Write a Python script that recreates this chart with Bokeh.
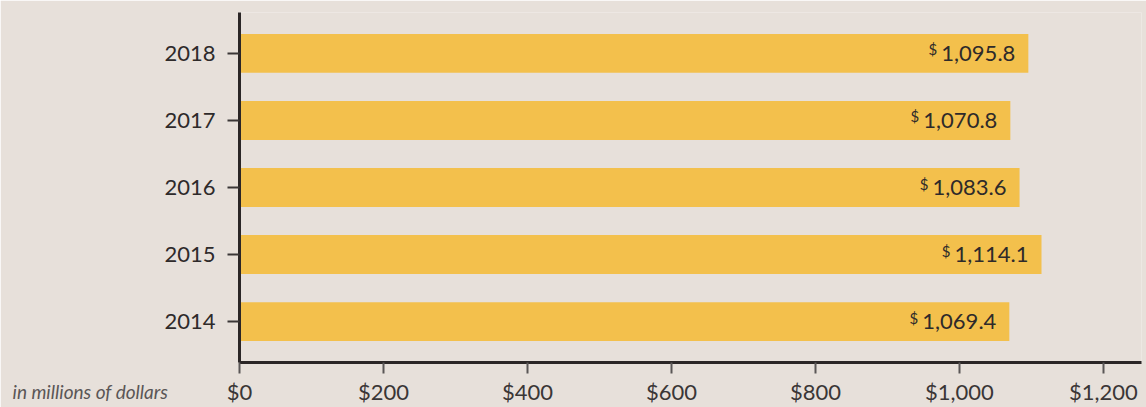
from bokeh.plotting import figure
from bokeh.models import Range1d, FactorRange, FixedTicker, Label, ColumnDataSource
from bokeh.core.properties import value
from bokeh.embed import file_html
from bokeh.resources import INLINE

years = ["2014", "2015", "2016", "2017", "2018"]
revenue = [1069.4, 1114.1, 1083.6, 1070.8, 1095.8]
value_labels = ["1,069.4", "1,114.1", "1,083.6", "1,070.8", "1,095.8"]
x_ticks = [0, 200, 400, 600, 800, 1000, 1200]
x_tick_labels = ["$0", "$200", "$400", "$600", "$800", "$1,000", "$1,200"]
unit_note = "in millions of dollars"

FONT = "Lato"
BG = "#e7e0da"
TEXT = "#2e2a2a"
LABEL_FS = 22

# approximate glyph widths (px) of the value-label font, used to place the small "$"
def text_width(s):
    return sum((0.21 if c in ",." else 0.58) * LABEL_FS for c in s)

dollar_offsets = [-13 - text_width(s) - 5 for s in value_labels]

src = ColumnDataSource(dict(y=years, x=revenue, lab=value_labels, doff=dollar_offsets,
                            d=["$"] * len(years)))

p = figure(width=1146, height=407, output_backend="svg", toolbar_location=None,
           x_range=Range1d(0, 1253),
           y_range=FactorRange(*years, range_padding=0.044),
           min_border_left=239, min_border_right=5, min_border_top=12, min_border_bottom=44)

p.background_fill_color = BG
p.border_fill_color = BG
p.outline_line_color = None
p.xgrid.grid_line_color = None
p.ygrid.grid_line_color = None

p.hbar(y="y", right="x", left=0, height=0.58, source=src,
       fill_color="#f3c04c", line_color=None)

p.text(x="x", y="y", text="lab", source=src, x_offset=-13, text_align="right",
       text_baseline="middle", text_font=value(FONT), text_font_size=f"{LABEL_FS}px",
       text_color=TEXT)
p.text(x="x", y="y", text="d", source=src, x_offset="doff", y_offset=-4,
       text_align="right", text_baseline="middle", text_font=value(FONT),
       text_font_size="15px", text_color=TEXT)

xa = p.xaxis[0]
xa.ticker = FixedTicker(ticks=x_ticks)
xa.major_label_overrides = {t: l for t, l in zip(x_ticks, x_tick_labels)}
xa.axis_line_width = 3
xa.axis_line_color = "#2b2626"
xa.major_tick_out = 11
xa.major_tick_in = 0
xa.major_tick_line_color = "#5a5656"
xa.major_tick_line_width = 2
xa.minor_tick_line_color = None
xa.major_label_standoff = 4
xa.major_label_text_font = FONT
xa.major_label_text_font_size = "22px"
xa.major_label_text_color = "#3a3636"

ya = p.yaxis[0]
ya.axis_line_width = 3
ya.axis_line_color = "#2b2626"
ya.major_tick_out = 12
ya.major_tick_in = 0
ya.major_tick_line_color = "#3a3636"
ya.major_tick_line_width = 2
ya.major_label_standoff = 12
ya.major_label_text_font = FONT
ya.major_label_text_font_size = "22px"
ya.major_label_text_color = TEXT

# unit note, left of the $0 tick label; kept in a side panel so it is not clipped
p.add_layout(Label(x=-315.3, y=-0.54, text=unit_note,
                   text_align="left", text_baseline="middle", text_font=FONT,
                   text_font_style="italic", text_font_size="19px",
                   text_color="#5a5656"), "left")

open("out.html", "w").write(file_html(p, INLINE))
